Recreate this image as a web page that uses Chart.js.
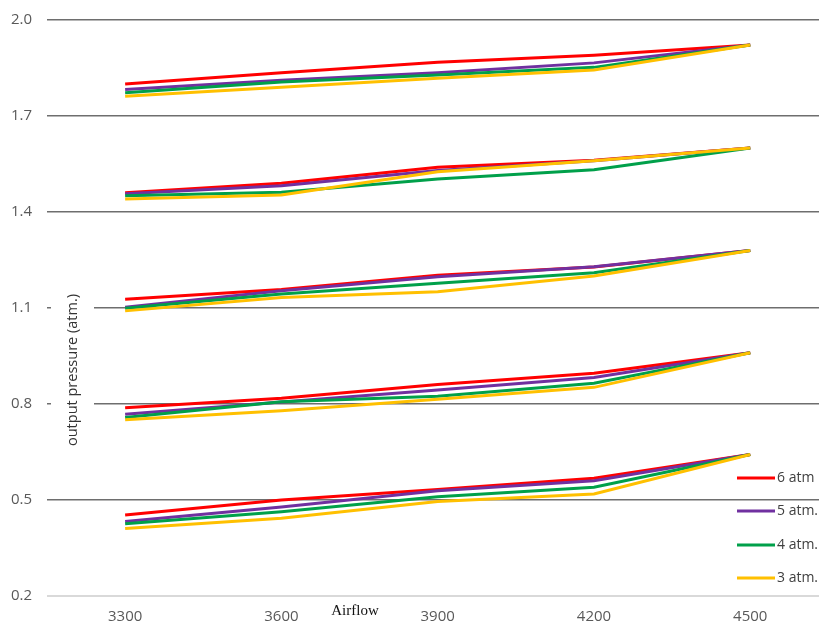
<!DOCTYPE html>
<html>
<head>
<meta charset="utf-8">
<script src="https://cdn.jsdelivr.net/npm/chart.js@4/dist/chart.umd.min.js"></script>
<style>
  body { margin:0; background:#fff; }
  #wrap { width:819px; height:625px; position:relative; }
</style>
</head>
<body>
<div id="wrap"><canvas id="myChart"></canvas></div>
<script>
// airflow values on the x axis
var airflow = [3300, 3600, 3900, 4200, 4500]
var yTicks = [0.2, 0.5, 0.8, 1.1, 1.4, 1.7, 2.0]

// output pressure, one row per curve group (top group first)
var atm6 = [
  [1.800, 1.835, 1.868, 1.890, 1.922],
  [1.460, 1.490, 1.540, 1.562, 1.600],
  [1.127, 1.158, 1.202, 1.228, 1.280],
  [0.788, 0.818, 0.861, 0.896, 0.960],
  [0.453, 0.500, 0.533, 0.568, 0.642]
]
var atm5 = [
  [1.783, 1.812, 1.835, 1.866, 1.922],
  [1.457, 1.482, 1.530, 1.560, 1.600],
  [1.102, 1.154, 1.198, 1.229, 1.280],
  [0.768, 0.806, 0.844, 0.883, 0.960],
  [0.433, 0.478, 0.529, 0.560, 0.642]
]
var atm4 = [
  [1.773, 1.806, 1.828, 1.852, 1.922],
  [1.451, 1.462, 1.503, 1.532, 1.600],
  [1.099, 1.144, 1.177, 1.210, 1.280],
  [0.758, 0.807, 0.824, 0.865, 0.960],
  [0.426, 0.463, 0.510, 0.540, 0.642]
]
var atm3 = [
  [1.762, 1.790, 1.818, 1.844, 1.922],
  [1.441, 1.453, 1.526, 1.560, 1.600],
  [1.091, 1.133, 1.151, 1.200, 1.280],
  [0.751, 0.779, 0.815, 0.852, 0.960],
  [0.411, 0.443, 0.495, 0.519, 0.642]
]

var series = [
  {label:"6 atm", rows:atm6, color:"#ff0000"},
  {label:"5 atm.", rows:atm5, color:"#7030a0"},
  {label:"4 atm.", rows:atm4, color:"#00a04a"},
  {label:"3 atm.", rows:atm3, color:"#ffc000"}
]

var datasets = []
series.forEach(function(s, si){
  s.rows.forEach(function(row){
    datasets.push({
      label: s.label,
      data: row.map(function(v, i){ return {x: airflow[i], y: v} }),
      borderColor: s.color,
      backgroundColor: s.color,
      borderWidth: 3,
      pointRadius: 0,
      tension: 0,
      order: 3 - si
    })
  })
})

var extras = {
  id: "extras",
  afterDraw: function(chart){
    var ctx = chart.ctx
    ctx.save()
    // y axis title sits on a white box over the grid
    ctx.fillStyle = "#fff"
    ctx.fillRect(51, 282, 43, 176)
    ctx.translate(73, 370)
    ctx.rotate(-Math.PI/2)
    ctx.fillStyle = "#333"
    ctx.font = "14.5px 'Open Sans'"
    ctx.textAlign = "center"
    ctx.textBaseline = "middle"
    ctx.fillText("output pressure (atm.)", 0, 0)
    ctx.restore()

    ctx.save()
    ctx.fillStyle = "#111"
    ctx.font = "15px 'Liberation Serif'"
    ctx.textAlign = "center"
    ctx.textBaseline = "middle"
    ctx.fillText("Airflow", 355, 611)
    ctx.restore()

    // legend
    var ly = [478, 511, 545, 578]
    ctx.save()
    ctx.font = "14px 'Open Sans'"
    ctx.textBaseline = "middle"
    series.forEach(function(s, i){
      ctx.strokeStyle = s.color
      ctx.lineWidth = 3
      ctx.beginPath()
      ctx.moveTo(737, ly[i])
      ctx.lineTo(775, ly[i])
      ctx.stroke()
      ctx.fillStyle = "#404040"
      ctx.fillText(s.label, 777, ly[i])
    })
    ctx.restore()
  }
}

var chart = new Chart(document.getElementById("myChart").getContext("2d"), {
  type: "line",
  data: {datasets: datasets},
  options: {
    responsive: true,
    maintainAspectRatio: false,
    animation: false,
    layout: {padding: {top: 20, right: 0, left: 0, bottom: 0}},
    plugins: {legend: {display: false}, tooltip: {enabled: false}},
    scales: {
      x: {
        type: "linear",
        min: 3150,
        max: 4632,
        afterBuildTicks: function(scale){
          scale.ticks = airflow.map(function(v){ return {value: v} })
        },
        afterFit: function(scale){
          scale.height = 29
          scale.paddingLeft = 0
          scale.paddingRight = 0
        },
        grid: {display: false},
        border: {display: false},
        ticks: {
          color: "#595959",
          font: {family: "'Open Sans'", size: 15},
          padding: 4,
          maxRotation: 0,
          callback: function(v){ return v }
        }
      },
      y: {
        min: 0.2,
        max: 2.0,
        afterBuildTicks: function(scale){
          scale.ticks = yTicks.map(function(v){ return {value: v} })
        },
        afterFit: function(scale){
          scale.width = 47
          scale.paddingTop = 0
          scale.paddingBottom = 0
        },
        border: {display: false},
        grid: {
          drawTicks: false,
          color: function(c){ return c.tick && c.tick.value < 0.3 ? "#d9d9d9" : "#6e6e6e" },
          lineWidth: function(c){ return c.tick && c.tick.value < 0.3 ? 2 : 1.5 }
        },
        ticks: {
          color: "#595959",
          font: {family: "'Open Sans'", size: 15},
          padding: 15,
          callback: function(v){ return Number(v).toFixed(1) }
        }
      }
    }
  },
  plugins: [extras]
})
</script>
</body>
</html>
